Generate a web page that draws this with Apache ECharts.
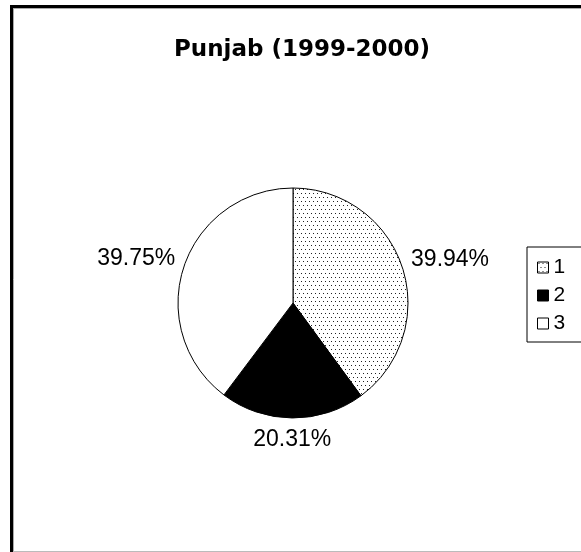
<!DOCTYPE html>
<html>
<head>
<meta charset="utf-8">
<script src="https://cdn.jsdelivr.net/npm/echarts@6/dist/echarts.min.js"></script>
<style>
  html, body { margin: 0; padding: 0; background: #fff; }
  #chart { width: 581px; height: 552px; }
</style>
</head>
<body>
<div id="chart"></div>
<script>
// 数据
const categories = ["1", "2", "3"];
const shares = [39.94, 20.31, 39.75];
const chartTitle = "Punjab (1999-2000)";

// 点状填充
function dotPattern() {
  const c = document.createElement("canvas");
  c.width = 4;
  c.height = 8;
  const ctx = c.getContext("2d");
  ctx.fillStyle = "#fff";
  ctx.fillRect(0, 0, 4, 8);
  ctx.fillStyle = "#222";
  ctx.fillRect(1, 1, 1, 1);
  ctx.fillRect(3, 5, 1, 1);
  return c;
}

const fills = [
  { image: dotPattern(), repeat: "repeat" },
  "#000",
  "#fff",
];

const chart = echarts.init(document.getElementById("chart"));
chart.setOption({
  backgroundColor: "#fff",
  animation: false,
  title: {
    text: chartTitle,
    left: 169,
    top: 34,
    textStyle: {
      fontFamily: "DejaVu Sans",
      fontWeight: "bold",
      fontSize: 23,
      color: "#000",
    },
  },
  legend: {
    orient: "vertical",
    left: 527,
    top: 247,
    padding: [10, 40, 8, 10],
    itemGap: 7,
    itemWidth: 11,
    itemHeight: 11,
    icon: "rect",
    borderColor: "#000",
    borderWidth: 1,
    borderRadius: 0,
    itemStyle: { borderColor: "#000", borderWidth: 1 },
    textStyle: { fontFamily: "Liberation Sans", fontSize: 21, color: "#000" },
    data: categories,
  },
  // 外框
  graphic: [
    { type: "line", shape: { x1: 11.5, y1: 5, x2: 11.5, y2: 552 }, style: { stroke: "#000", lineWidth: 3 } },
    { type: "line", shape: { x1: 10, y1: 6.5, x2: 581, y2: 6.5 }, style: { stroke: "#000", lineWidth: 3 } },
    { type: "line", shape: { x1: 13.5, y1: 8, x2: 13.5, y2: 551 }, style: { stroke: "#aaa", lineWidth: 1 } },
    { type: "line", shape: { x1: 13, y1: 8.5, x2: 581, y2: 8.5 }, style: { stroke: "#aaa", lineWidth: 1 } },
    { type: "line", shape: { x1: 13, y1: 551.5, x2: 581, y2: 551.5 }, style: { stroke: "#bbb", lineWidth: 1 } },
  ],
  series: [
    {
      type: "pie",
      center: [293, 303],
      radius: 115,
      startAngle: 90,
      clockwise: true,
      silent: true,
      itemStyle: { borderColor: "#000", borderWidth: 1 },
      label: {
        show: true,
        position: "outside",
        distanceToLabelLine: 4,
        fontFamily: "Liberation Sans",
        fontSize: 23,
        color: "#000",
        formatter: (p) => p.value.toFixed(2) + "%",
      },
      labelLine: { show: false, length: 5, length2: 0 },
      labelLayout: function (p) {
        if (p.dataIndex === 1) {
          return { dx: p.labelRect.width / 2 + 4, dy: 17 };
        }
        return { dy: -6 };
      },
      data: categories.map((name, i) => ({
        name: name,
        value: shares[i],
        itemStyle: { color: fills[i] },
      })),
    },
  ],
});
</script>
</body>
</html>
